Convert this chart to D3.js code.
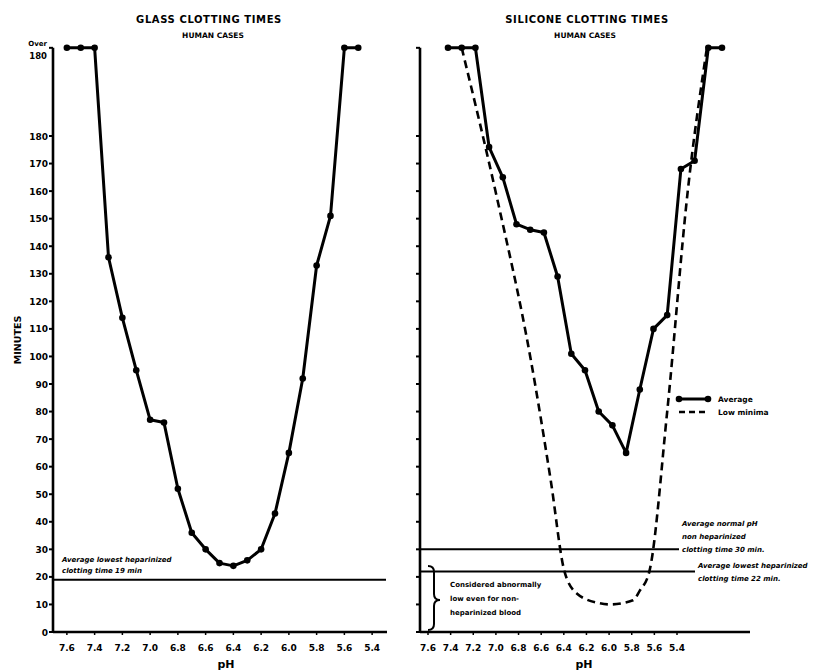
<!DOCTYPE html>
<html><head><meta charset="utf-8">
<script src="https://cdn.jsdelivr.net/npm/d3@7"></script>
<style>
body{margin:0;background:#fff;}
text{font-family:"DejaVu Sans",sans-serif;font-weight:bold;fill:#000;}
</style></head>
<body><svg id="c" width="821" height="671"></svg>
<script>
// ---- data ----
const OVER = 212; // value used to plot "Over 180"
const phGlass = [7.6,7.5,7.4,7.3,7.2,7.1,7.0,6.9,6.8,6.7,6.6,6.5,6.4,6.3,6.2,6.1,6.0,5.9,5.8,5.7,5.6,5.5];
const glassMinutes = [OVER,OVER,OVER,136,114,95,77,76,52,36,30,25,24,26,30,43,65,92,133,151,OVER,OVER];
const phSilicone = [7.6,7.5,7.4,7.3,7.2,7.1,7.0,6.9,6.8,6.7,6.6,6.5,6.4,6.3,6.2,6.1,6.0,5.9,5.8,5.7,5.6];
const siliconeAverage = [OVER,OVER,OVER,176,165,148,146,145,129,101,95,80,75,65,88,110,115,168,171,OVER,OVER];
const phLowMinima = [7.5,7.24,7.0,6.85,6.75,6.66,6.5,6.42,6.25,6.2,6.13,6.0,5.85,5.71];
const lowMinima = [OVER,157,100,55,22,14,10.5,10,11.5,15,22,80,160,OVER];
const yTicks = [0,10,20,30,40,50,60,70,80,90,100,110,120,130,140,150,160,170,180];
const xTickLabels = ["7.6","7.4","7.2","7.0","6.8","6.6","6.4","6.2","6.0","5.8","5.6","5.4"];
const glassRef = 19, siliconeNormal = 30, siliconeLowest = 22;

const svg = d3.select("#c");
const y = d3.scaleLinear().domain([0,180]).range([632,136]);
const yOver = y(OVER);
const ink = "#000";

// ---- left panel ----
const xL = d3.scaleLinear().domain([7.7,5.3]).range([53,386]);
function yAxis(xPos, labels){
  const g = svg.append("g");
  g.append("line").attr("x1",xPos).attr("x2",xPos).attr("y1",yOver).attr("y2",y(0)+1)
    .attr("stroke",ink).attr("stroke-width",2.6);
  yTicks.concat([OVER]).forEach(v=>{
    g.append("line").attr("x1",xPos-4).attr("x2",xPos).attr("y1",y(v)).attr("y2",y(v)).attr("stroke",ink).attr("stroke-width",2);
    if(labels && v!==OVER){
      g.append("text").attr("x",xPos-5).attr("y",y(v)+3.5).attr("text-anchor","end").attr("font-size",9).text(v);
    }
  });
  if(labels){
    g.append("text").attr("x",xPos-6).attr("y",yOver-2).attr("text-anchor","end").attr("font-size",7).text("Over");
    g.append("text").attr("x",xPos-6).attr("y",yOver+11).attr("text-anchor","end").attr("font-size",8.5).text("180");
  }
}
yAxis(53,true);
svg.append("line").attr("x1",53).attr("x2",387).attr("y1",y(0)).attr("y2",y(0)).attr("stroke",ink).attr("stroke-width",2.6);
xTickLabels.forEach(t=>{
  const xp = xL(+t);
  svg.append("line").attr("x1",xp).attr("x2",xp).attr("y1",y(0)).attr("y2",y(0)+3).attr("stroke",ink).attr("stroke-width",1.5);
  svg.append("text").attr("x",xp).attr("y",651).attr("text-anchor","middle").attr("font-size",9).text(t);
});
svg.append("text").attr("x",226).attr("y",668).attr("text-anchor","middle").attr("font-size",11).text("pH");
svg.append("text").attr("transform","translate(21,340) rotate(-90)").attr("text-anchor","middle").attr("font-size",9.5).text("MINUTES");
svg.append("text").attr("x",209).attr("y",23).attr("text-anchor","middle").attr("font-size",10).attr("letter-spacing",0.6).text("GLASS CLOTTING TIMES");
svg.append("text").attr("x",213).attr("y",38).attr("text-anchor","middle").attr("font-size",7.5).text("HUMAN CASES");

svg.append("line").attr("x1",53).attr("x2",386).attr("y1",y(glassRef)).attr("y2",y(glassRef)).attr("stroke",ink).attr("stroke-width",2);
svg.append("text").attr("x",62).attr("y",562).attr("font-size",7).attr("font-style","italic").text("Average lowest heparinized");
svg.append("text").attr("x",62).attr("y",573).attr("font-size",7).attr("font-style","italic").text("clotting time 19 min");

const glassPts = phGlass.map((p,i)=>[xL(p), y(glassMinutes[i])]);
svg.append("path").attr("d",d3.line()(glassPts)).attr("fill","none").attr("stroke",ink).attr("stroke-width",3).attr("stroke-linejoin","round");
svg.selectAll(".gp").data(glassPts).join("circle").attr("cx",d=>d[0]).attr("cy",d=>d[1]).attr("r",3.3).attr("fill",ink);

// ---- right panel ----
const xR = d3.scaleLinear().domain([7.6,5.6]).range([448,722]);
const xRlab = d3.scaleLinear().domain([7.6,5.4]).range([428,677]);
yAxis(420,false);
svg.append("line").attr("x1",420).attr("x2",750).attr("y1",y(0)).attr("y2",y(0)).attr("stroke",ink).attr("stroke-width",2.6);
xTickLabels.forEach(t=>{
  const xp = xRlab(+t);
  svg.append("line").attr("x1",xp).attr("x2",xp).attr("y1",y(0)).attr("y2",y(0)+3).attr("stroke",ink).attr("stroke-width",1.5);
  svg.append("text").attr("x",xp).attr("y",651).attr("text-anchor","middle").attr("font-size",9).text(t);
});
svg.append("text").attr("x",584).attr("y",668).attr("text-anchor","middle").attr("font-size",11).text("pH");
svg.append("text").attr("x",587).attr("y",23).attr("text-anchor","middle").attr("font-size",10).attr("letter-spacing",0.6).text("SILICONE CLOTTING TIMES");
svg.append("text").attr("x",585).attr("y",38).attr("text-anchor","middle").attr("font-size",7.5).text("HUMAN CASES");

svg.append("line").attr("x1",420).attr("x2",679).attr("y1",y(siliconeNormal)).attr("y2",y(siliconeNormal)).attr("stroke",ink).attr("stroke-width",2);
svg.append("line").attr("x1",420).attr("x2",695).attr("y1",y(siliconeLowest)).attr("y2",y(siliconeLowest)).attr("stroke",ink).attr("stroke-width",2);
[["Average normal pH",526],["non heparinized",539],["clotting time 30 min.",552]].forEach(d=>
  svg.append("text").attr("x",682).attr("y",d[1]).attr("font-size",7).attr("font-style","italic").text(d[0]));
[["Average lowest heparinized",568],["clotting time 22 min.",581]].forEach(d=>
  svg.append("text").attr("x",698).attr("y",d[1]).attr("font-size",7).attr("font-style","italic").text(d[0]));
// brace
svg.append("path").attr("d","M428,566 Q434,566 434,572 L434,594 Q434,600 440,600 Q434,600 434,606 L434,624 Q434,630 428,630")
  .attr("fill","none").attr("stroke",ink).attr("stroke-width",2);
[["Considered abnormally",587],["low even for non-",601],["heparinized blood",615]].forEach(d=>
  svg.append("text").attr("x",450).attr("y",d[1]).attr("font-size",7).text(d[0]));

const lowPts = phLowMinima.map((p,i)=>[xR(p), y(lowMinima[i])]);
svg.append("path").attr("d",d3.line().curve(d3.curveMonotoneX)(lowPts)).attr("fill","none").attr("stroke",ink).attr("stroke-width",2.6).attr("stroke-dasharray","8,5");

const avgPts = phSilicone.map((p,i)=>[xR(p), y(siliconeAverage[i])]);
svg.append("path").attr("d",d3.line()(avgPts)).attr("fill","none").attr("stroke",ink).attr("stroke-width",3).attr("stroke-linejoin","round");
svg.selectAll(".sp").data(avgPts).join("circle").attr("cx",d=>d[0]).attr("cy",d=>d[1]).attr("r",3.3).attr("fill",ink);

// legend
svg.append("line").attr("x1",679).attr("x2",708).attr("y1",399).attr("y2",399).attr("stroke",ink).attr("stroke-width",3);
svg.append("circle").attr("cx",679).attr("cy",399).attr("r",3.3).attr("fill",ink);
svg.append("circle").attr("cx",708).attr("cy",399).attr("r",3.3).attr("fill",ink);
svg.append("text").attr("x",718).attr("y",402).attr("font-size",7.5).text("Average");
svg.append("line").attr("x1",679).attr("x2",708).attr("y1",412).attr("y2",412).attr("stroke",ink).attr("stroke-width",2.6).attr("stroke-dasharray","6,4");
svg.append("text").attr("x",718).attr("y",415).attr("font-size",7.5).text("Low minima");
</script></body></html>
